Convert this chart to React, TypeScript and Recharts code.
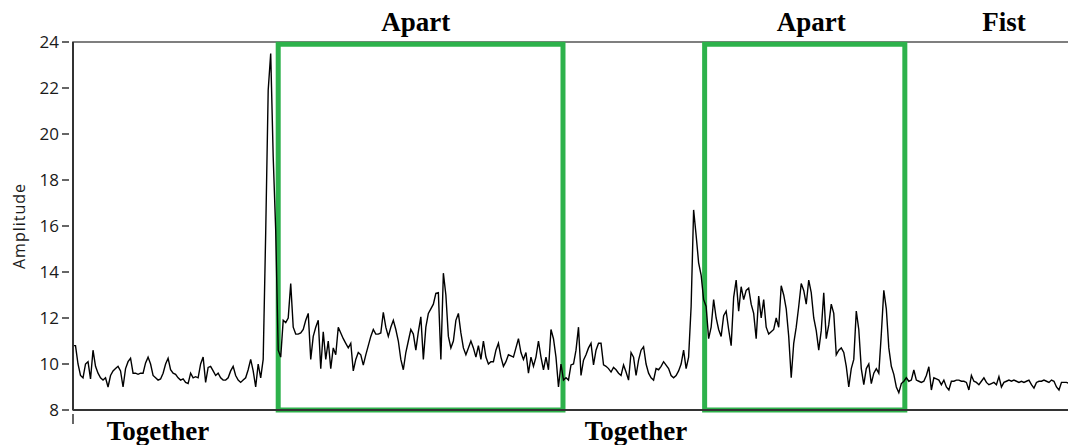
import React from "react";
import {
  LineChart,
  Line,
  XAxis,
  YAxis,
  ReferenceArea,
  ReferenceDot,
  Label,
} from "recharts";

// amplitude samples, split by hand posture
const together1 = [
  10.8, 10.8, 10.0, 9.5, 9.4, 10.0, 10.1, 9.35, 10.6, 9.9,
  9.6, 9.4, 9.3, 9.4, 9.0, 9.5, 9.7, 9.8, 9.9, 9.7,
  9.0, 9.8, 10.1, 10.25, 9.6, 9.6, 9.55, 9.6, 9.6, 10.05,
  10.3, 10.0, 9.5, 9.4, 9.3, 9.35, 9.6, 10.0, 10.25, 9.75,
  9.6, 9.55, 9.4, 9.3, 9.35, 9.2, 9.15, 9.6, 9.4, 9.45,
  9.4, 10.0, 10.3, 9.2, 9.85, 9.9, 9.7, 9.5, 9.6, 9.4,
  9.3, 9.3, 9.4, 9.7, 9.9, 9.5, 9.3, 9.2, 9.3, 9.4,
  9.75, 10.2, 9.7, 9.0, 10.0, 9.4, 10.2, 15.7, 21.9, 23.5,
  19.0, 15.8,
];

const apart1 = [
  10.6, 10.3, 11.9, 11.8, 12.0, 13.5, 11.6, 11.3,
  11.3, 11.35, 11.5, 11.9, 12.2, 10.2, 11.2, 11.6, 11.9, 9.8,
  11.4, 10.2, 11.0, 9.8, 10.7, 10.4, 11.6, 11.35, 11.1, 10.9,
  10.7, 10.9, 9.7, 10.2, 10.5, 10.4, 9.95, 10.4, 10.8, 11.2,
  11.5, 11.3, 11.3, 11.35, 12.25, 11.6, 11.2, 11.6, 11.9, 11.5,
  11.0, 10.2, 9.75, 10.5, 11.0, 11.5, 11.3, 10.6, 11.4, 12.05,
  10.2, 11.6, 12.2, 12.4, 12.6, 13.07, 13.1, 10.2, 13.95, 13.0,
  11.2, 10.7, 11.0, 11.9, 12.2, 11.35, 10.7, 10.4, 10.7, 11.0,
  10.7, 10.3, 10.8, 10.2, 11.0, 10.3, 10.0, 10.1, 10.1, 10.6,
  10.9, 10.3, 9.9, 10.1, 10.4, 10.35, 10.3, 10.7, 11.1, 10.5,
  10.2, 10.5, 9.6, 10.3, 9.9, 10.3, 11.0, 10.3, 9.75, 10.3,
  9.75, 11.5, 11.1, 10.3, 9.0, 10.0,
];

const together2 = [
  9.3, 9.4, 9.3, 9.96,
  10.0, 10.6, 11.6, 9.5, 10.17, 10.4, 10.7, 10.9, 9.96, 10.6,
  10.9, 10.9, 9.96, 9.9, 9.8, 9.65, 9.85, 9.75, 9.6, 9.5,
  9.96, 9.65, 9.3, 10.5, 10.3, 9.5, 10.17, 10.6, 10.75, 10.0,
  9.6, 9.4, 9.3, 9.8, 9.75, 9.9, 10.1, 9.95, 9.8, 9.5,
  9.4, 9.5, 9.7, 10.0, 10.6, 9.8, 10.3, 12.5, 16.7, 15.6,
  14.4, 13.87, 12.8,
];

const apart2 = [
  12.5, 11.1, 11.6, 12.8, 12.0, 11.5, 11.2,
  12.1, 12.3, 11.5, 10.8, 12.9, 13.65, 12.3, 13.36, 12.8, 13.2,
  13.3, 12.6, 12.2, 11.1, 12.95, 12.0, 12.8, 11.6, 11.3, 11.4,
  11.5, 12.0, 11.6, 13.4, 13.0, 12.4, 11.2, 9.4, 10.9, 11.6,
  12.5, 13.5, 13.2, 12.6, 13.65, 13.1, 12.0, 11.45, 10.6, 11.45,
  13.1, 11.1, 11.7, 12.6, 12.2, 10.4, 10.6, 10.7, 10.5, 9.9,
  9.0, 9.8, 10.2, 12.3, 11.5, 9.8, 9.1, 9.8, 10.0, 9.15,
  9.6, 9.8, 9.6, 11.3, 13.2, 12.4, 10.7, 9.9, 9.55, 9.0,
  8.75, 9.15, 9.25,
];

const fist = [
  9.4, 9.25, 9.3, 9.74, 9.3, 9.25, 9.2,
  9.25, 9.5, 9.88, 8.87, 9.4, 9.35, 9.3, 9.1, 9.3, 9.0,
  8.87, 9.25, 9.25, 9.3, 9.3, 9.25, 9.25, 9.2, 8.87, 9.5,
  9.25, 9.2, 9.1, 9.25, 9.4, 9.2, 9.1, 9.15, 9.2, 9.1,
  9.45, 9.0, 9.2, 9.25, 9.3, 9.25, 9.3, 9.25, 9.2, 9.25,
  9.2, 9.25, 9.3, 9.1, 8.95, 9.2, 9.25, 9.25, 9.3, 9.25,
  9.2, 9.3, 9.25, 9.0, 8.87, 9.2, 9.2, 9.2, 9.15, 9.1,
  9.25,
];

// sample index ranges of the "apart" windows
const apartWindows = [
  [82, 195.8],
  [252.4, 332.4],
];

// posture names and the sample they are written over
const postureLabels = [
  { text: "Apart", at: 137, edge: "top" },
  { text: "Apart", at: 295, edge: "top" },
  { text: "Fist", at: 372, edge: "top" },
  { text: "Together", at: 34, edge: "bottom" },
  { text: "Together", at: 225, edge: "bottom" },
];

const yTicks = [8, 10, 12, 14, 16, 18, 20, 22, 24];

const samples = [...together1, ...apart1, ...together2, ...apart2, ...fist];
const data = samples.map((amp, i) => ({ t: i, amp }));
const lastT = samples.length - 1;

const GREEN = "#2db24b";
const AXIS = "#333";

function AmpTick({ x, y, payload }: any) {
  return (
    <g>
      <line x1={x - 11} x2={x - 4} y1={y} y2={y} stroke={AXIS} strokeWidth={1.5} />
      <text
        x={x - 14}
        y={y}
        dy="0.36em"
        textAnchor="end"
        fontFamily="'Open Sans', sans-serif"
        fontSize={17}
        fill="#1a1a1a"
      >
        {payload.value}
      </text>
    </g>
  );
}

function TimeTick({ x, y }: any) {
  return <line x1={x} x2={x} y1={y + 4} y2={y + 14} stroke={AXIS} strokeWidth={1.5} />;
}

function AmplitudeTitle({ viewBox }: any) {
  const cx = viewBox.x + 11;
  const cy = viewBox.y + viewBox.height / 2;
  return (
    <text
      x={cx}
      y={cy}
      dy="0.35em"
      textAnchor="middle"
      transform={`rotate(-90, ${cx}, ${cy})`}
      fontFamily="'Open Sans', sans-serif"
      fontSize={16}
      letterSpacing={1}
      fill="#1a1a1a"
    >
      Amplitude
    </text>
  );
}

export default function App() {
  return (
    <LineChart
      width={1068}
      height={437}
      data={data}
      margin={{ top: 34, right: 2, bottom: 0, left: 0 }}
    >
      <XAxis
        dataKey="t"
        type="number"
        domain={[0, lastT]}
        ticks={[0, lastT]}
        interval={0}
        height={35}
        tickSize={0}
        tickMargin={0}
        tickLine={false}
        tick={<TimeTick />}
        axisLine={{ stroke: AXIS, strokeWidth: 2 }}
      />
      <YAxis
        type="number"
        domain={[8, 24]}
        ticks={yTicks}
        interval={0}
        width={65}
        tickSize={0}
        tickMargin={0}
        tickLine={false}
        tick={<AmpTick />}
        axisLine={{ stroke: AXIS, strokeWidth: 2 }}
      >
        <Label content={<AmplitudeTitle />} />
      </YAxis>
      <ReferenceArea
        x1={0}
        x2={lastT}
        y1={8}
        y2={24}
        fill="none"
        stroke="#555"
        strokeWidth={1.5}
        ifOverflow="visible"
      />
      <Line
        type="linear"
        dataKey="amp"
        stroke="#000"
        strokeWidth={1.4}
        dot={false}
        isAnimationActive={false}
      />
      {apartWindows.map(([a, b], i) => (
        <ReferenceArea
          key={`apart-${i}`}
          x1={a}
          x2={b}
          y1={8}
          y2={23.9}
          fill="none"
          stroke={GREEN}
          strokeWidth={5}
          ifOverflow="visible"
        />
      ))}
      {postureLabels.map((p, i) => (
        <ReferenceDot
          key={`label-${i}`}
          x={p.at}
          y={p.edge === "top" ? 24 : 8}
          r={0}
          fill="none"
          stroke="none"
          ifOverflow="visible"
          label={{
            value: p.text,
            position: p.edge,
            offset: 11,
            fill: "#000",
            fontSize: 27,
            fontWeight: "bold",
            fontFamily: "'Liberation Serif', 'Times New Roman', serif",
          }}
        />
      ))}
    </LineChart>
  );
}
